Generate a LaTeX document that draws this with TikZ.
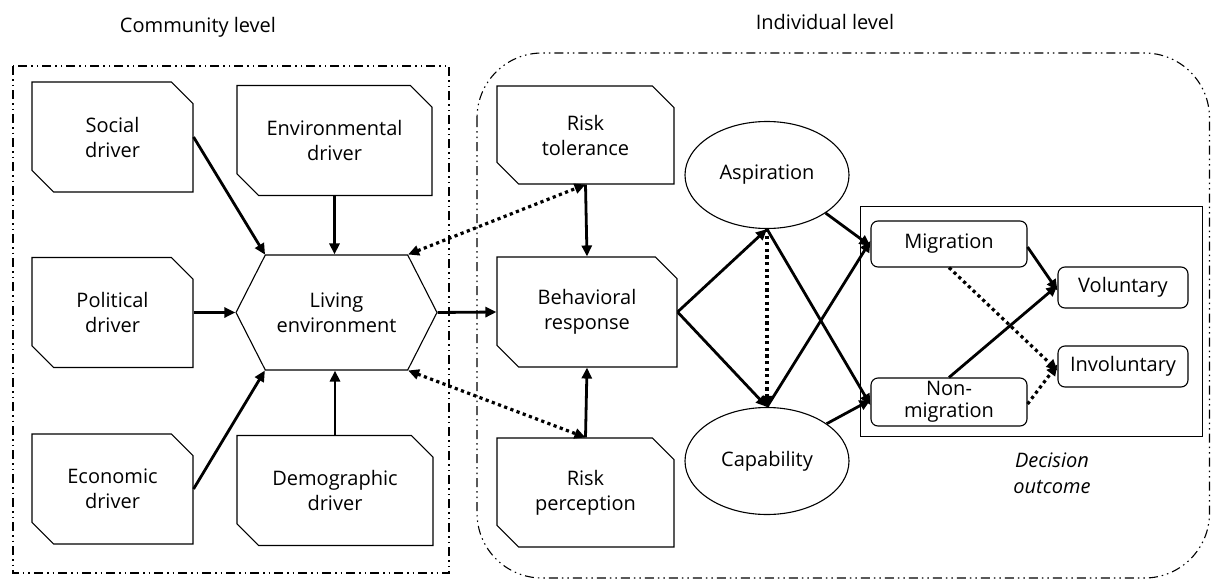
\documentclass[tikz,border=0pt]{standalone}
\usepackage{fontspec}
\setmainfont{Open Sans}
\usetikzlibrary{arrows.meta}
\usetikzlibrary{positioning}
\usetikzlibrary{shapes.misc}
\usetikzlibrary{shapes.symbols}
\usetikzlibrary{shapes.geometric}

\tikzset{
  >={Triangle[length=11pt,width=10pt]},
  txt/.style={font=\fontsize{20}{25}\selectfont, align=center},
  drv/.style={txt, draw, line width=1.1pt, chamfered rectangle,
    chamfered rectangle corners={north east, south west},
    chamfered rectangle xsep=18pt, inner sep=0pt,
    minimum width=161pt, minimum height=110pt},
  hexa/.style={txt, draw, line width=1.1pt, signal, signal to=east and west,
    signal pointer angle=126, inner sep=0pt,
    minimum width=201pt, minimum height=115pt},
  oval/.style={txt, draw, line width=1.1pt, ellipse, inner sep=0pt,
    minimum width=164pt, minimum height=107pt},
  res/.style={txt, draw, line width=1.1pt, rounded corners=7pt, inner sep=0pt},
  frame/.style={line width=1.1pt, dash pattern=on 9pt off 4pt on 1.5pt off 4pt on 1.5pt off 4pt},
  arr/.style={->, line width=2.8pt},
  dot/.style={line width=3.2pt, dash pattern=on 3.2pt off 3.4pt},
}

\begin{document}
\begin{tikzpicture}[x=1pt, y=-1pt]
    \useasboundingbox (0,0) rectangle (1211,581);

    \node [txt] (comm) at (198,27) {Community level};
    \node [txt] (indi) at (825,22) {Individual level};

    \draw [frame] (13,66) rectangle (449,573);
    \draw [frame, rounded corners=65pt] (477,53) rectangle (1209.5,578);
    \draw [line width=1pt] (860,206) rectangle (1202,436);

    \node [drv] (soc) at (112.5,137) {Social\\driver};
    \node [drv, minimum width=195pt] (env) at (334.5,140.5) {Environmental\\driver};
    \node [drv] (pol) at (112.5,312.5) {Political\\driver};
    \node [drv] (eco) at (112.5,489) {Economic\\driver};
    \node [drv, minimum width=196pt] (dem) at (335,490.5) {Demographic\\driver};

    \node [hexa] (liv) at (336.5,312.5) {Living\\environment};

    \node [drv, minimum width=177pt, minimum height=98pt] (tol) at (585.5,135) {Risk\\tolerance};
    \node [drv, minimum width=180pt] (beh) at (587,312) {Behavioral\\response};
    \node [drv, minimum width=177pt, minimum height=109pt] (per) at (585.5,492.5) {Risk\\perception};

    \node [oval] (asp) at (767,175) {Aspiration};
    \node [oval] (cap) at (767,461) {Capability};

    \node [res, minimum width=156pt, minimum height=46pt] (mig) at (949,244) {Migration};
    \node [res, minimum width=156pt, minimum height=48pt, font=\fontsize{20}{22}\selectfont] (non) at (949,402) {Non-\\migration};
    \node [res, minimum width=130pt, minimum height=41pt] (vol) at (1123,287.5) {Voluntary};
    \node [res, minimum width=130pt, minimum height=41pt] (inv) at (1123,366.5) {Involuntary};

    \node [txt, font=\fontsize{20}{26}\selectfont\itshape] (dec) at (1052,473) {Decision\\outcome};

    \draw [arr] (soc.east) -- (liv.141);
    \draw [arr] (env.south) -- (env.south |- liv.north);
    \draw [arr] (pol.east) -- (liv.west);
    \draw [arr] (eco.east) -- (liv.219);
    \draw [arr] (dem.north) -- (dem.north |- liv.south);

    \draw [dot, <->] (liv.39) -- (tol.south);
    \draw [dot, <->] (liv.321) -- (per.north);

    \draw [arr] (liv.east) -- (beh.west);
    \draw [arr] (tol.south) -- (beh.north);
    \draw [arr] (per.north) -- (beh.south);

    \draw [arr] (beh.east) -- (asp.south);
    \draw [arr] (beh.east) -- (cap.north);
    \draw [dot, ->] (asp.south) -- (cap.north);
    \draw [arr] (asp.south) -- ([yshift=-3pt]non.west);
    \draw [arr] (cap.north) -- ([yshift=3pt]mig.west);
    \draw [arr] (asp.-33) -- ([yshift=-2pt]mig.west);
    \draw [arr] (cap.32) -- ([yshift=2pt]non.west);

    \draw [arr] ([yshift=-3pt]mig.east) -- ([yshift=-3pt]vol.west);
    \draw [arr] (non.north) -- ([yshift=2pt]vol.west);
    \draw [dot, ->] (mig.south) -- ([yshift=-4pt]inv.west);
    \draw [dot, ->] ([yshift=-2pt]non.east) -- ([yshift=2pt]inv.west);
  \end{tikzpicture}
\end{document}
